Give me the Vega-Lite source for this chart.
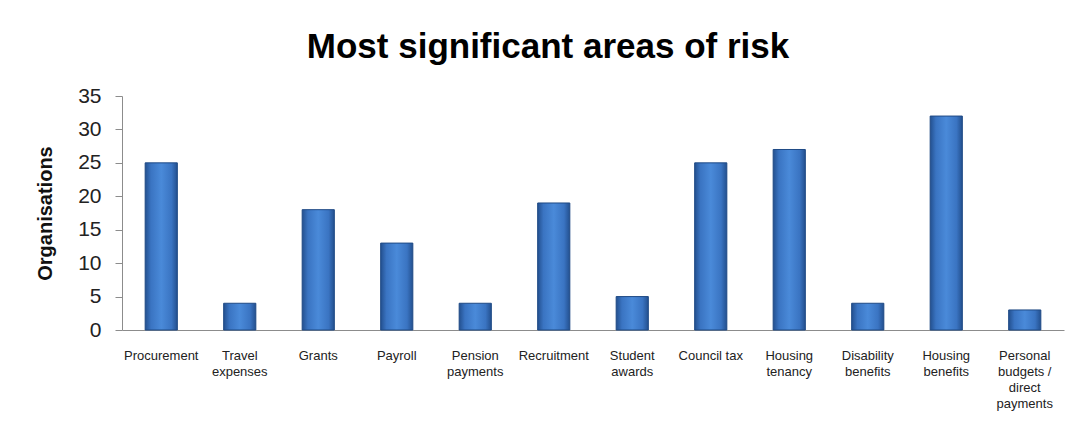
{
  "$schema": "https://vega.github.io/schema/vega-lite/v6.json",
  "autosize": {"type": "none"},
  "width": 942,
  "height": 234,
  "padding": {"left": 122, "top": 96, "right": 17, "bottom": 97},
  "background": "white",
  "title": {
    "text": "Most significant areas of risk",
    "font": "Liberation Sans",
    "fontSize": 35,
    "fontWeight": "bold",
    "color": "#000000",
    "anchor": "middle",
    "dx": -45,
    "offset": 20
  },
  "data": {
    "values": [
      {"area": "Procurement", "organisations": 25},
      {"area": "Travel expenses", "organisations": 4},
      {"area": "Grants", "organisations": 18},
      {"area": "Payroll", "organisations": 13},
      {"area": "Pension payments", "organisations": 4},
      {"area": "Recruitment", "organisations": 19},
      {"area": "Student awards", "organisations": 5},
      {"area": "Council tax", "organisations": 25},
      {"area": "Housing tenancy", "organisations": 27},
      {"area": "Disability benefits", "organisations": 4},
      {"area": "Housing benefits", "organisations": 32},
      {"area": "Personal budgets / direct payments", "organisations": 3}
    ]
  },
  "config": {
    "view": {"stroke": null},
    "axis": {"domainColor": "#8c8c8c", "tickColor": "#8c8c8c", "grid": false}
  },
  "layer": [
    {
      "mark": {
        "type": "bar",
        "stroke": "#1f4a85",
        "strokeWidth": 1,
        "color": {
          "gradient": "linear",
          "x1": 0, "x2": 1, "y1": 0, "y2": 0,
          "stops": [
            {"offset": 0, "color": "#23508f"},
            {"offset": 0.18, "color": "#3a74c2"},
            {"offset": 0.5, "color": "#4a8ad9"},
            {"offset": 0.82, "color": "#3a74c2"},
            {"offset": 1, "color": "#23508f"}
          ]
        }
      },
      "encoding": {
        "x": {
          "field": "area",
          "type": "nominal",
          "sort": null,
          "scale": {"paddingInner": 0.59, "paddingOuter": 0.295},
          "axis": {
            "title": null,
            "labelAngle": 0,
            "ticks": false,
            "domain": true,
            "labelFont": "Liberation Sans",
            "labelFontSize": 13,
            "labelColor": "#222222",
            "labelPadding": 19,
            "labelLineHeight": 16,
            "labelBaseline": "top",
            "labelLimit": 200,
            "labelExpr": "datum.label == 'Council tax' ? datum.label : datum.label == 'Personal budgets / direct payments' ? ['Personal', 'budgets /', 'direct', 'payments'] : split(datum.label, ' ')"
          }
        },
        "y": {
          "field": "organisations",
          "type": "quantitative",
          "scale": {"domain": [0, 35]},
          "axis": {
            "title": "Organisations",
            "titleFont": "Liberation Sans",
            "titleFontSize": 20,
            "titleFontWeight": "bold",
            "titleColor": "#111111",
            "titlePadding": 22,
            "values": [0, 5, 10, 15, 20, 25, 30, 35],
            "labelFont": "Liberation Sans",
            "labelFontSize": 21,
            "labelColor": "#222222",
            "labelPadding": 14,
            "tickSize": 7
          }
        }
      }
    }
  ]
}
